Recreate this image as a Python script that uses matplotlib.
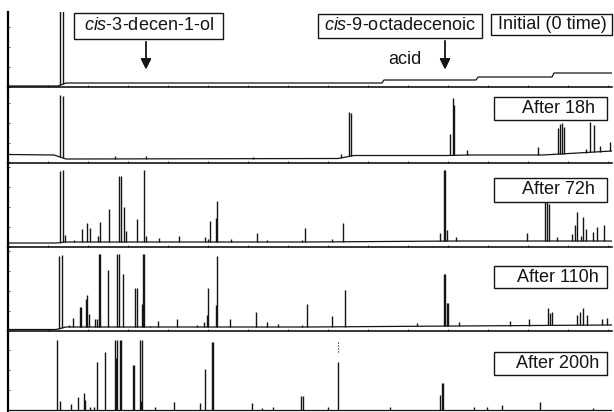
import numpy as np
import matplotlib
matplotlib.use("Agg")
import matplotlib.pyplot as plt
from matplotlib.patches import Rectangle
from matplotlib.ticker import MultipleLocator

plt.rcParams['font.family'] = ['Liberation Sans', 'DejaVu Sans']
plt.rcParams['mathtext.fontset'] = 'custom'
plt.rcParams['mathtext.rm'] = 'Liberation Sans'
plt.rcParams['mathtext.it'] = 'Liberation Sans:italic'

# ---- chromatogram data (retention time in min, peak height in detector units) ----
# baselines: (time, level)
base_0h_t = [0, 5.0, 5.8, 37.4, 37.6, 46.8, 47.0, 54.4, 54.6, 60.4]
base_0h_y = [1, 1, 4, 4, 7, 7, 10, 10, 14, 14]
peaks_0h_t = [5.2, 5.5]
peaks_0h_h = [76, 76]

base_18h_t = [0, 4.6, 5.8, 33.0, 34.6, 44.0, 46.0, 53.5, 60.4]
base_18h_y = [8.5, 8, 4, 4.5, 7.5, 7.5, 8, 8, 12]
peaks_18h_t = [5.2, 5.5, 10.7, 13.8, 24.5, 33.3, 34.1, 34.3, 44.2, 44.5, 44.6, 45.9,
               53.0, 55.0, 55.2, 55.4, 55.6, 57.8, 58.2, 58.6, 59.2, 60.2]
peaks_18h_h = [62, 62, 3, 3, 2, 4, 44, 43, 21, 57, 50, 5,
               8, 26, 30, 31, 27, 4, 30, 27, 6, 9]

base_72h_t = [0, 4.8, 5.8, 30.0, 45.0, 60.4]
base_72h_y = [4, 4, 5, 5, 6, 6]
peaks_72h_t = [5.2, 5.5, 5.7, 6.6, 7.4, 7.9, 8.2, 9.0, 9.2, 10.1, 11.1, 11.3, 11.6, 11.8,
               12.9, 13.6, 13.8, 15.1, 17.1, 19.7, 20.0, 20.2, 20.8, 20.9, 22.3, 24.9,
               25.9, 29.4, 29.7, 32.4, 33.5, 43.2, 43.6, 43.65, 43.9, 44.8, 51.9,
               53.7, 53.9, 54.1, 54.9, 56.4, 56.7, 56.9, 57.3, 57.5, 57.8, 58.5, 58.9, 59.6]
peaks_72h_h = [72, 72, 7, 2, 13, 19, 14, 6, 20, 33, 66, 66, 35, 11,
               23, 72, 6, 4, 6, 5, 3, 21, 24, 41, 3, 9,
               2, 2, 14, 3, 19, 8, 71, 71, 11, 4, 8,
               41, 47, 37, 4, 7, 16, 29, 5, 24, 12, 9, 14, 16]

base_110h_t = [0, 4.8, 5.8, 30.0, 45.0, 60.4]
base_110h_y = [1.5, 1.5, 4, 4, 5, 6]
peaks_110h_t = [5.1, 5.4, 6.1, 6.5, 7.2, 7.3, 7.8, 7.9, 8.1, 8.7, 8.9, 9.1, 9.2, 10.0,
                10.9, 11.1, 11.5, 12.7, 12.9, 13.4, 13.5, 13.6, 14.2, 15.0, 16.9, 18.9,
                19.6, 19.9, 20.0, 20.8, 20.9, 22.2, 24.8, 25.9, 27.0, 29.4, 29.9, 32.4,
                33.7, 40.9, 43.6, 43.7, 43.9, 44.0, 45.1, 50.2, 52.1, 54.0, 54.2, 54.4,
                56.9, 57.2, 57.5, 57.9, 59.4, 59.9]
peaks_110h_h = [73, 73, 2, 9, 20, 20, 28, 32, 13, 8, 8, 73, 73, 57,
                73, 73, 53, 39, 39, 23, 73, 73, 1, 6, 8, 2,
                5, 12, 39, 22, 71, 8, 15, 5, 3, 2, 23, 11,
                37, 3, 52, 52, 23, 23, 4, 5, 7, 17, 12, 13,
                10, 13, 17, 10, 6, 7]

base_200h_t = [0, 60.4]
base_200h_y = [0, 0]
peaks_200h_t = [4.9, 5.2, 6.3, 7.0, 7.6, 7.7, 8.2, 8.6, 8.9, 9.7, 10.7, 10.8, 10.9,
                11.2, 11.3, 12.5, 12.6, 13.2, 13.3, 13.4, 14.7, 16.6, 19.2, 19.7, 20.4,
                20.5, 24.4, 25.4, 26.5, 29.3, 29.5, 32.0, 33.0, 38.2, 43.2, 43.4, 43.5,
                46.6, 47.9, 49.4, 53.2, 58.5]
peaks_200h_h = [70, 9, 6, 13, 17, 10, 3, 3, 48, 58, 70, 52, 70,
                70, 70, 45, 45, 70, 9, 70, 3, 8, 7, 41, 68,
                68, 7, 2, 3, 14, 14, 3, 48, 3, 15, 27, 27,
                3, 3, 5, 8, 2]

panels = [
    ("Initial (0 time)", base_0h_t, base_0h_y, peaks_0h_t, peaks_0h_h),
    ("After 18h", base_18h_t, base_18h_y, peaks_18h_t, peaks_18h_h),
    ("After 72h", base_72h_t, base_72h_y, peaks_72h_t, peaks_72h_h),
    ("After 110h", base_110h_t, base_110h_y, peaks_110h_t, peaks_110h_h),
    ("After 200h", base_200h_t, base_200h_y, peaks_200h_t, peaks_200h_h),
]

# ---- layout (image pixels) ----
W, H = 614, 412
panel_rows = [(12, 87), (87, 163), (163, 247), (247, 331), (331, 412)]
label_boxes = [None, (494, 97, 607, 120), (494, 178, 607, 202),
               (494, 266, 607, 288), (494, 352, 607, 375)]
ink = '#151515'

fig = plt.figure(figsize=(W / 100, H / 100), dpi=100)


def fx(x):
    return x / W


def fy(y):
    return 1 - y / H


def box(x0, y0, x1, y1):
    fig.add_artist(Rectangle((fx(x0), fy(y1)), (x1 - x0) / W, (y1 - y0) / H,
                             transform=fig.transFigure, fc='white', ec=ink, lw=1.0))


for i, (name, bt, bl, pt, ph) in enumerate(panels):
    top, bottom = panel_rows[i]
    ax = fig.add_axes([fx(8), fy(bottom), 604 / W, (bottom - top) / H])
    last = i == len(panels) - 1
    if last:
        ax.set_ylim(-2, bottom - top - 2)
    else:
        ax.set_ylim(0, bottom - top)
    ax.set_xlim(0, 60.4)
    ax.plot(bt, bl, color=ink, lw=0.9)
    base = np.interp(pt, bt, bl)
    ax.vlines(pt, base, base + np.array(ph), color=ink, lw=1.0)
    for s in ['top', 'right']:
        ax.spines[s].set_visible(False)
    ax.spines['left'].set_linewidth(1.6)
    ax.spines['bottom'].set_linewidth(1.1)
    ax.xaxis.set_major_locator(MultipleLocator(4))
    ax.yaxis.set_major_locator(MultipleLocator(20))
    ax.tick_params(length=1.5, width=0.5, direction='in', labelbottom=False,
                   labelleft=False, colors=ink)
    if last:
        ax.spines['bottom'].set_visible(False)
        ax.tick_params(bottom=False)
    ax.patch.set_alpha(0)
    if label_boxes[i] is not None:
        x0, y0, x1, y1 = label_boxes[i]
        box(x0, y0, x1, y1)
        fig.text(fx(558), fy((y0 + y1) / 2), name, ha='center', va='center',
                 fontsize=13, color=ink)
    if last:
        # off-scale marker above the peak at 33 min
        ax.vlines(33.0, 58, 68, color=ink, lw=0.8, linestyles=':')

# ---- annotations on the initial trace ----
box(74, 13, 223, 39)
fig.text(fx(149), fy(26), r"$\it{cis}$-3-decen-1-ol", ha='center', va='center',
         fontsize=13, color=ink)
box(318, 14, 482, 38)
fig.text(fx(400), fy(26), r"$\it{cis}$-9-octadecenoic", ha='center', va='center',
         fontsize=13, color=ink)
fig.text(fx(405), fy(59), "acid", ha='center', va='center', fontsize=13, color=ink)
box(491, 14, 612, 35)
fig.text(fx(552), fy(24.5), "Initial (0 time)", ha='center', va='center',
         fontsize=13, color=ink)

for x, y0, y1 in [(146, 39, 72), (445, 38, 72)]:
    fig.add_artist(plt.annotate('', xy=(fx(x), fy(y1)), xytext=(fx(x), fy(y0)),
                                xycoords='figure fraction',
                                arrowprops=dict(arrowstyle='-|>', color=ink, lw=1.0,
                                                mutation_scale=16)))

fig.savefig("out.png", dpi=100)
